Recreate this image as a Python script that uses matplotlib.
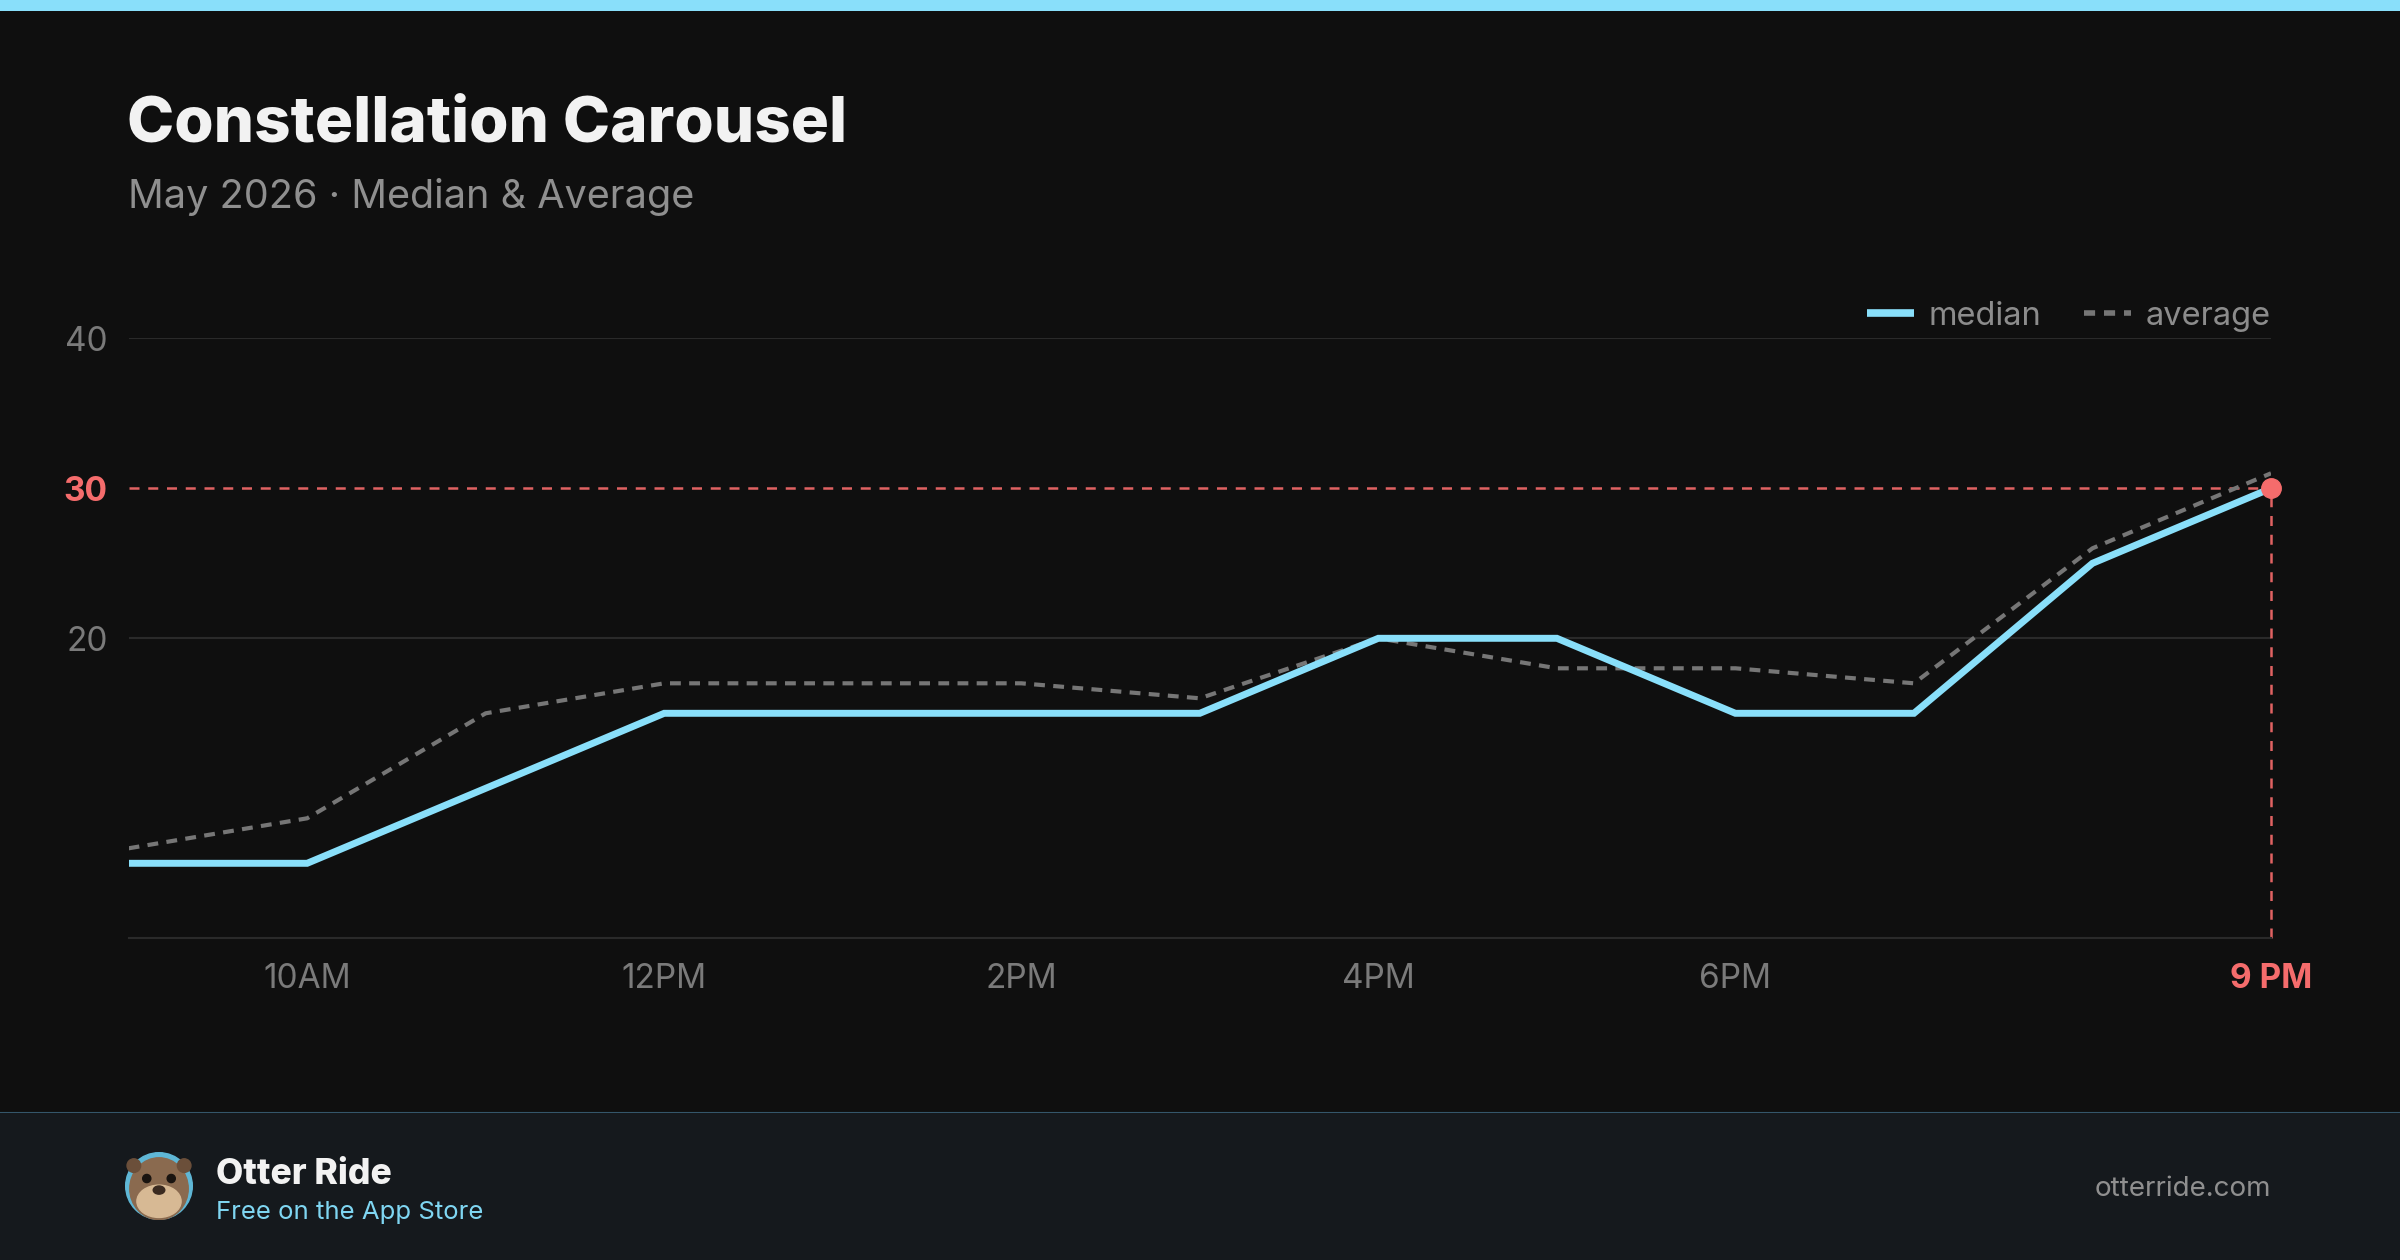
import matplotlib.pyplot as plt
from matplotlib.patches import Rectangle, Circle, Ellipse
from matplotlib.lines import Line2D

plt.rcParams['font.family'] = ['Inter', 'DejaVu Sans']

# ------------------------------------------------------------ data
hours = [9, 10, 11, 12, 13, 14, 15, 16, 17, 18, 19, 20, 21]
median = [5, 5, 10, 15, 15, 15, 15, 20, 20, 15, 15, 25, 30]
average = [6, 8, 15, 17, 17, 17, 16, 20, 18, 18, 17, 26, 31]

x_ticks = [10, 12, 14, 16, 18, 21]
x_labels = ["10AM", "12PM", "2PM", "4PM", "6PM", "9 PM"]
y_ticks = [20, 30, 40]
y_labels = ["20", "30", "40"]

title = "Constellation Carousel"
subtitle = "May 2026 \u00b7 Median & Average"

# ------------------------------------------------------------ colours
bg = "#0f0f0f"
cyan = "#89dffa"
grey_line = "#767676"
red = "#f56c6c"
grid_col = "#2a2a2a"
tick_col = "#7a7a7a"

W, H = 2400, 1260
fig = plt.figure(figsize=(W / 100, H / 100), dpi=100, facecolor=bg)

# top accent bar
fig.patches.append(Rectangle((0, 1 - 11 / H), 1, 11 / H, transform=fig.transFigure,
                             facecolor=cyan, edgecolor="none", zorder=-1))

# footer
foot_h = (H - 1113) / H
fig.patches.append(Rectangle((0, 0), 1, foot_h, transform=fig.transFigure,
                             facecolor="#15191d", edgecolor="none", zorder=-1))
fig.lines.append(Line2D([0, 1], [foot_h, foot_h], transform=fig.transFigure,
                        color="#34566a", lw=1.5, zorder=-1))

# ------------------------------------------------------------ titles
fig.text(127 / W, 1 - 125 / H, title, fontsize=45.8, fontweight="heavy",
         color="#f2f2f2", va="center", ha="left")
fig.text(128 / W, 1 - 197 / H, subtitle, fontsize=28.5, color="#8f8f8f",
         va="center", ha="left")

# ------------------------------------------------------------ chart
ax = fig.add_axes([128.6 / W, 1 - 938.3 / H, (2271 - 128.6) / W, (938.3 - 338.3) / H])
ax.set_facecolor(bg)
ax.set_xlim(hours[0], hours[-1])
ax.set_ylim(0, 40)

for s in ["top", "right", "left"]:
    ax.spines[s].set_visible(False)
ax.spines["bottom"].set_color(grid_col)
ax.spines["bottom"].set_linewidth(1.5)

ax.set_yticks(y_ticks)
ax.set_yticklabels(y_labels)
ax.set_xticks(x_ticks)
ax.set_xticklabels(x_labels)
ax.tick_params(axis="both", length=0, labelsize=24, colors=tick_col)
ax.tick_params(axis="y", pad=15)
ax.tick_params(axis="x", pad=17.5)
ax.grid(axis="y", color=grid_col, lw=1.5)
ax.get_ygridlines()[1].set_visible(False)

for lab in ax.get_yticklabels():
    if lab.get_text() == "30":
        lab.set_color(red)
        lab.set_fontweight("bold")
for lab in ax.get_xticklabels():
    if lab.get_text() == "9 PM":
        lab.set_color(red)
        lab.set_fontweight("bold")

# reference lines to the last point
ax.plot([hours[0], hours[-1]], [median[-1], median[-1]], color="#e06262",
        lw=1.8, dashes=(4, 3.5), zorder=2)
ax.vlines(hours[-1], 0, median[-1], color="#e06262", lw=1.8,
          linestyles=(0, (4, 3.5)), zorder=2, clip_on=False)

ax.plot(hours, average, color=grey_line, lw=3.0, dashes=(2.6, 2.0), zorder=3)
ax.plot(hours, median, color=cyan, lw=5.0, solid_joinstyle="miter",
        solid_capstyle="round", zorder=4)
ax.plot(hours[-1], median[-1], "o", color=red, ms=14, zorder=5, clip_on=False)

h_med = Line2D([], [], color=cyan, lw=5.5, solid_capstyle="butt")
h_avg = Line2D([], [], color=grey_line, lw=4.0, dashes=(2.0, 1.6))
leg = ax.legend([h_med, h_avg], ["median", "average"], loc="lower right",
                bbox_to_anchor=(1.0, 1.011), ncol=2, frameon=False,
                fontsize=23.5, handlelength=1.45, handletextpad=0.45,
                columnspacing=1.3, borderaxespad=0.0, borderpad=0.0)
for t in leg.get_texts():
    t.set_color("#8c8c8c")

# ------------------------------------------------------------ footer content
fy = 1 - 1186 / H
av = fig.add_axes([(159 - 34) / W, fy - 34 / H, 68 / W, 68 / H])
av.set_xlim(-1, 1)
av.set_ylim(-1, 1)
av.set_aspect("equal")
av.axis("off")
av.add_patch(Circle((0, 0), 0.98, color="#5fb7d6"))
av.add_patch(Ellipse((0, -0.08), 1.72, 1.82, color="#8a6a4f"))
av.add_patch(Ellipse((0, -0.45), 1.3, 0.95, color="#d7b994"))
av.add_patch(Circle((-0.74, 0.6), 0.2, color="#6b4f3a"))
av.add_patch(Circle((0.74, 0.6), 0.2, color="#6b4f3a"))
av.add_patch(Circle((-0.36, 0.22), 0.12, color="#1a1410"))
av.add_patch(Circle((0.36, 0.22), 0.12, color="#1a1410"))
av.add_patch(Ellipse((0, -0.12), 0.34, 0.24, color="#3a2a20"))

fig.text(216 / W, 1 - 1174 / H, "Otter Ride", fontsize=25.5, fontweight="heavy",
         color="#f2f2f2", va="center", ha="left")
fig.text(216 / W, 1 - 1213 / H, "Free on the App Store", fontsize=18.5,
         color="#7fd6f2", va="center", ha="left")
fig.text(2271 / W, 1 - 1189 / H, "otterride.com", fontsize=20,
         color="#8f8f8f", va="center", ha="right")

fig.savefig("out.png", dpi=100, facecolor=bg)
